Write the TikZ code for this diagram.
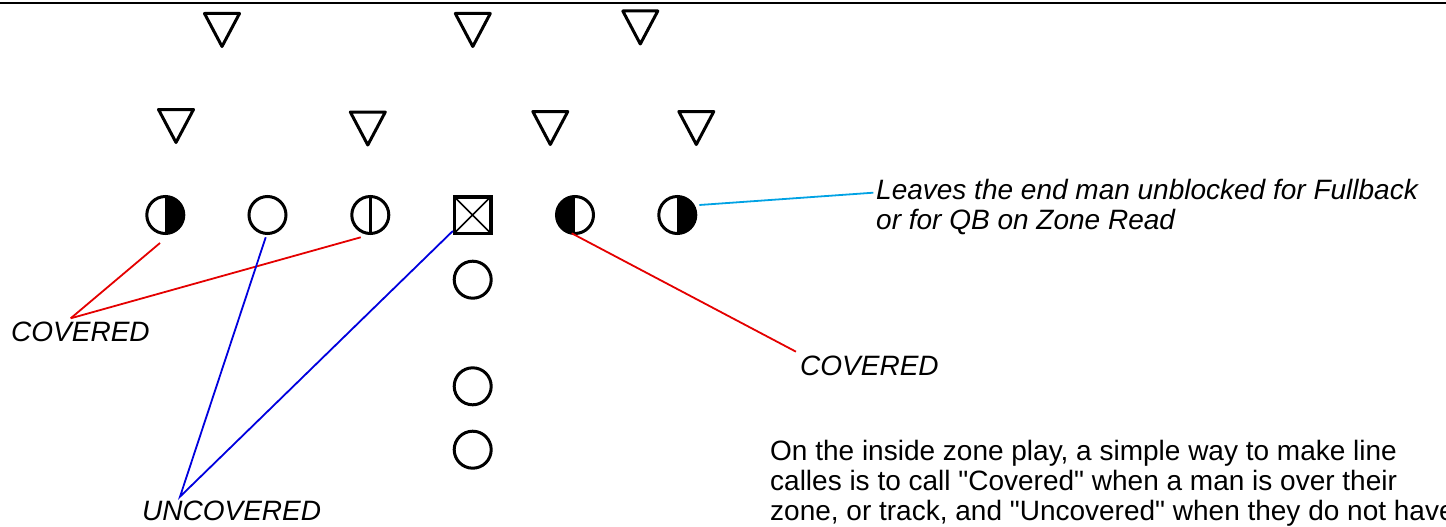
\documentclass[tikz,border=0pt]{standalone}
\usepackage{fontspec}
\setmainfont{Liberation Sans}[Ligatures=TeXOff]
\definecolor{lnred}{RGB}{228,0,0}
\definecolor{lnblue}{RGB}{0,0,222}
\definecolor{lncyan}{RGB}{0,162,228}
\tikzset{
  player/.style={circle, draw, line width=3pt, minimum size=37pt, inner sep=0pt, outer sep=1.5pt},
  halfright/.style={player, path picture={\fill (path picture bounding box.north) rectangle (path picture bounding box.south east);}},
  halfleft/.style={player, path picture={\fill (path picture bounding box.north west) rectangle (path picture bounding box.south);}},
  midbar/.style={player, path picture={\draw[line width=3pt] (path picture bounding box.north) -- (path picture bounding box.south);}},
  center/.style={rectangle, draw, line width=3.5pt, minimum size=36.5pt, inner sep=0pt, outer sep=1.75pt,
    path picture={\draw[line width=1.5pt] (path picture bounding box.north west) -- (path picture bounding box.south east)
      (path picture bounding box.north east) -- (path picture bounding box.south west);}},
  deftri/.pic={\draw[line width=3pt, line join=round] (-17.5,-16.5) -- (17.5,-16.5) -- (0,16.5) -- cycle;},
  lbl/.style={font=\fontsize{28}{30}\selectfont\itshape, inner sep=0pt, anchor=base west},
  body/.style={font=\fontsize{28}{30}\selectfont, inner sep=0pt, anchor=base west, align=left},
  conn/.style={line width=1.8pt},
}
\begin{document}
\begin{tikzpicture}[x=1pt,y=-1pt]
\useasboundingbox (0,0) rectangle (1446,527);
\clip (0,0) rectangle (1446,527);
% line of scrimmage edge
\draw[line width=2pt] (0,3.5) -- (1446,3.5);
% defenders
\pic at (222,30) {deftri};
\pic at (472.8,30) {deftri};
\pic at (640.3,27.5) {deftri};
\pic at (176,126) {deftri};
\pic at (367.8,128.5) {deftri};
\pic at (550.3,128) {deftri};
\pic at (696.3,128) {deftri};
% offense
\node[halfright] (p1) at (165.3,215) {};
\node[player] (p2) at (267.5,215) {};
\node[midbar] (p3) at (370.3,215) {};
\node[center] (c) at (472.5,215) {};
\node[halfleft] (p5) at (575,215) {};
\node[halfright] (p6) at (677.3,215) {};
\node[player] (b1) at (472.7,279.7) {};
\node[player] (b2) at (472.7,386.3) {};
\node[player] (b3) at (472.7,449.7) {};
% labels
\node[lbl] (cov1) at (11,341.7) {COVERED};
\node[lbl] (cov2) at (800,375) {COVERED};
\node[lbl] (unc) at (142,520) {UNCOVERED};
\node[lbl] (note) at (876,199) {Leaves the end man unblocked for Fullback};
\node[lbl] (note2) at (876,229) {or for QB on Zone Read};
\node[body] (txt) at (770,520.3) {On the inside zone play, a simple way to make line\\calles is to call "Covered" when a man is over their\\zone, or track, and "Uncovered" when they do not have};
% connector end points
\coordinate (k1) at (70.7,318.3);
\coordinate (u1) at (180,496.7);
\coordinate (k2) at (796,351.7);
\coordinate (n1) at (873.3,192.7);
\coordinate (s1) at (160,243);
\coordinate (s3) at (360.7,237.3);
\coordinate (s2) at (265.7,237.3);
\coordinate (sc) at (452.8,231);
\coordinate (s5) at (571.7,233.3);
\coordinate (s6) at (699.3,205);
% connectors
\draw[conn, lnred] (s1) -- (k1);
\draw[conn, lnred] (k1) -- (s3);
\draw[conn, lnblue] (s2) -- (u1) -- (sc);
\draw[conn, lnred] (s5) -- (k2);
\draw[conn, lncyan] (s6) -- (n1);
\end{tikzpicture}
\end{document}
